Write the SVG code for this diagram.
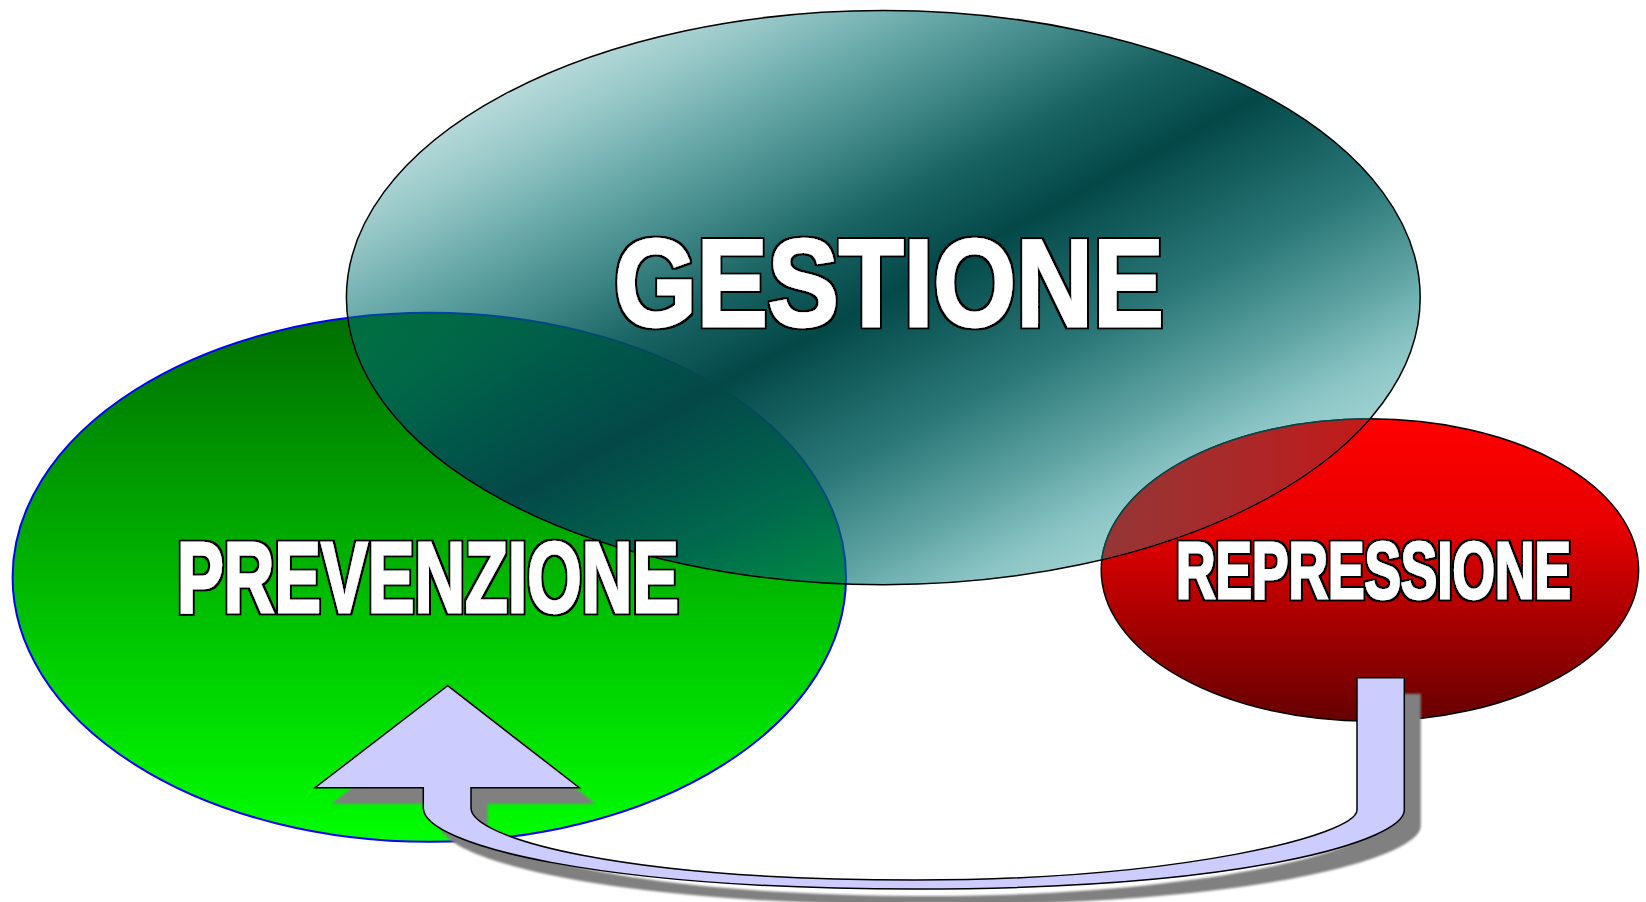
<svg xmlns="http://www.w3.org/2000/svg" width="1646" height="902" viewBox="0 0 1646 902">
  <defs>
    <linearGradient id="gGreen" x1="0" y1="0" x2="0" y2="1">
      <stop offset="0" stop-color="#006e00"/>
      <stop offset="1" stop-color="#00ff00"/>
    </linearGradient>
    <linearGradient id="gRed" x1="0" y1="0" x2="0" y2="1">
      <stop offset="0" stop-color="#ff0000"/>
      <stop offset="0.35" stop-color="#e80000"/>
      <stop offset="1" stop-color="#660000"/>
    </linearGradient>
    <linearGradient id="gTeal" x1="0" y1="0" x2="1" y2="1">
      <stop offset="0" stop-color="#008a8a" stop-opacity="0.08"/>
      <stop offset="0.08" stop-color="#008282" stop-opacity="0.15"/>
      <stop offset="0.2" stop-color="#007777" stop-opacity="0.4"/>
      <stop offset="0.28" stop-color="#006c6c" stop-opacity="0.6"/>
      <stop offset="0.42" stop-color="#005252" stop-opacity="0.9"/>
      <stop offset="0.5" stop-color="#044848" stop-opacity="1"/>
      <stop offset="0.63" stop-color="#005c5c" stop-opacity="0.83"/>
      <stop offset="0.72" stop-color="#006c6c" stop-opacity="0.63"/>
      <stop offset="0.785" stop-color="#007e7e" stop-opacity="0.46"/>
      <stop offset="0.855" stop-color="#008888" stop-opacity="0.34"/>
      <stop offset="1" stop-color="#008d8d" stop-opacity="0.24"/>
    </linearGradient>
    <linearGradient id="gOverlap" gradientUnits="userSpaceOnUse" x1="1100" y1="0" x2="1380" y2="0">
      <stop offset="0" stop-color="#943636"/>
      <stop offset="0.45" stop-color="#a82a2a"/>
      <stop offset="1" stop-color="#c41818"/>
    </linearGradient>
    <clipPath id="clipTeal">
      <ellipse cx="883.3" cy="297.6" rx="536.2" ry="286.4"/>
    </clipPath>
    <filter id="soft" x="-5%" y="-5%" width="110%" height="110%">
      <feGaussianBlur stdDeviation="1.2"/>
    </filter>
    <filter id="outline" x="-5%" y="-10%" width="110%" height="120%">
      <feMorphology in="SourceAlpha" operator="dilate" radius="2" result="d"/>
      <feFlood flood-color="#000000"/>
      <feComposite in2="d" operator="in" result="o"/>
      <feMerge>
        <feMergeNode in="o"/>
        <feMergeNode in="SourceGraphic"/>
      </feMerge>
    </filter>
    <path id="uArrow" d="M447.7 685.7 L579.3 787.7 L471 787.7 L471 808 C471 838 620 880 915 880 C1180 880 1357 835 1357 810 L1357 677.7 L1404.3 677.7 L1404.3 810 C1404.3 840 1250 889 915 889 C600 889 423.3 845 423.3 808 L423.3 787.7 L315 787.7 Z"/>
  </defs>
  <style>
    .lbl { font-family: "Liberation Sans", Arial, sans-serif; font-weight: bold; fill: #ffffff; stroke: #ffffff; stroke-width: 2.4; stroke-linejoin: miter; filter: url(#outline); }
    .edge { stroke: #000000; stroke-width: 1.5; }
  </style>

  <g id="node-prevenzione">
    <ellipse cx="429.3" cy="577.3" rx="416.7" ry="264.5" fill="url(#gGreen)" stroke="#0000ff" stroke-width="2"/>
  </g>
  <g id="node-repressione">
    <ellipse cx="1369.9" cy="570" rx="268.7" ry="151.2" fill="url(#gRed)" class="edge"/>
  </g>
  <g id="node-gestione">
    <ellipse cx="883.3" cy="297.6" rx="536.9" ry="287.1" fill="url(#gTeal)" class="edge"/>
    <ellipse id="overlap-repressione" cx="1369.9" cy="570" rx="268.7" ry="151.2" fill="url(#gOverlap)" stroke="#0a4444" stroke-width="1.5" clip-path="url(#clipTeal)"/>
  </g>

  <g id="labels">
    <text id="label-gestione" class="lbl" x="614" y="326" font-size="124" textLength="550" lengthAdjust="spacingAndGlyphs">GESTIONE</text>
    <text id="label-prevenzione" class="lbl" x="177" y="612" font-size="101" textLength="502" lengthAdjust="spacingAndGlyphs">PREVENZIONE</text>
    <text id="label-repressione" class="lbl" x="1176" y="597.5" font-size="79" textLength="395" lengthAdjust="spacingAndGlyphs">REPRESSIONE</text>
  </g>

  <g id="connectors">
    <use href="#uArrow" transform="translate(16.5 16)" fill="#808080" filter="url(#soft)"/>
    <use href="#uArrow" fill="#ccccff" class="edge"/>
  </g>
</svg>
